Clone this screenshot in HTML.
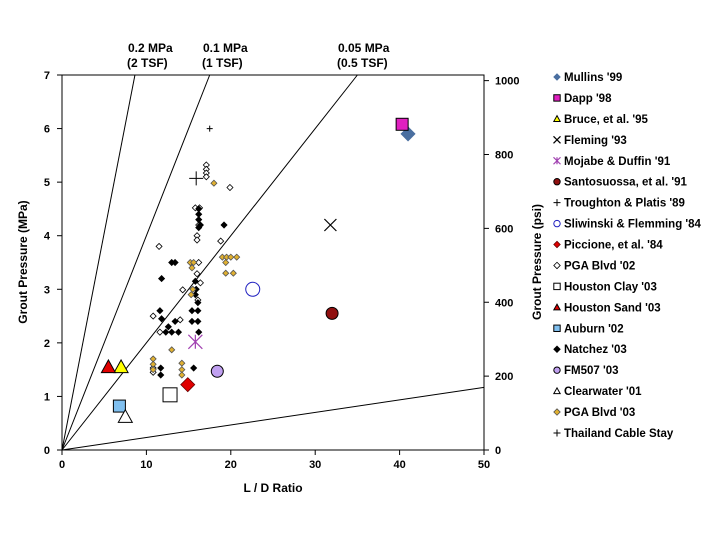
<!DOCTYPE html>
<html><head><meta charset="utf-8"><style>
body{margin:0;background:#fff;}
svg text{font-family:"Liberation Sans",Arial,sans-serif;font-weight:bold;}
</style></head><body>
<svg id="c" width="720" height="540"></svg>
<script>
const xTicks=[0,10,20,30,40,50];
const yTicks=[0,1,2,3,4,5,6,7];
const psiTicks=[0,200,400,600,800,1000];
const lineSlopes=[0.81,0.4,0.2,0.0234];
const lineLabels=[["0.2 MPa","(2 TSF)"],["0.1 MPa","(1 TSF)"],["0.05 MPa","(0.5 TSF)"]];
const labelX=[128,203,338];
const pga02X=[17.1,17.1,17.1,17.1,19.9,15.8,16.3,16.2,16.0,16.0,11.5,18.8,16.2,16.0,16.4,14.3,16.1,10.8,14.0,11.6,10.8,10.8];
const pga02Y=[5.32,5.24,5.17,5.1,4.9,4.52,4.52,4.2,4.0,3.92,3.8,3.9,3.5,3.29,3.12,2.99,2.8,2.5,2.43,2.2,1.53,1.45];
const natX=[16.2,16.2,16.2,16.2,19.2,13.4,13.0,11.8,15.8,15.9,15.8,16.1,16.1,16.1,15.4,15.4,11.6,11.8,12.6,12.3,13.0,13.4,13.8,16.2,11.7,11.7,15.6,16.4];
const natY=[4.5,4.4,4.3,4.15,4.2,3.5,3.5,3.2,3.15,3.0,2.9,2.75,2.6,2.4,2.6,2.4,2.6,2.45,2.3,2.2,2.2,2.4,2.2,2.2,1.53,1.4,1.53,4.2];
const pga03X=[18.0,15.2,15.6,15.4,19.0,19.5,20.0,20.7,19.4,19.4,20.3,15.5,15.3,13.0,10.8,10.8,10.8,14.2,14.2,14.2];
const pga03Y=[4.98,3.5,3.5,3.4,3.6,3.6,3.6,3.6,3.5,3.3,3.3,3.0,2.9,1.87,1.7,1.6,1.5,1.62,1.5,1.4];
const singles=[
 ["Mullins '99","diamond","#4a6fa0","#4a6fa0",41.0,5.9,7],
 ["Dapp '98","square","#e020c0","#000",40.3,6.08,6],
 ["Bruce, et al. '95","triangle","#ffff00","#000",7.0,1.55,7],
 ["Fleming '93","x","none","#000",31.8,4.2,6],
 ["Mojabe & Duffin '91","star","none","#a040b0",15.8,2.02,7],
 ["Santosuossa, et al. '91","circle","#901010","#000",32.0,2.55,6],
 ["Troughton & Platis '89","plus","none","#000",15.9,5.07,7],
 ["Sliwinski & Flemming '84","circle","#fff","#2020c0",22.6,3.0,7],
 ["Piccione, et al. '84","diamond","#e00000","#600",14.9,1.22,7],
 ["PGA Blvd '02","diamond","#fff","#000",null,null,3],
 ["Houston Clay '03","square","#fff","#000",12.8,1.03,7],
 ["Houston Sand '03","triangle","#e00000","#000",5.5,1.55,7],
 ["Auburn '02","square","#80c0f0","#000",6.8,0.82,6],
 ["Natchez '03","diamond","#000","#000",null,null,3],
 ["FM507 '03","circle","#c0a0f0","#000",18.4,1.47,6],
 ["Clearwater '01","triangle","#fff","#000",7.5,0.62,7],
 ["PGA Blvd '03","diamond","#e0b030","#555",null,null,3],
 ["Thailand Cable Stay","plus","none","#000",17.5,6.0,3]
];
const NS="http://www.w3.org/2000/svg";
const svg=document.getElementById('c');
const X0=62,X1=484,Y0=450,Y1=75;
const sx=v=>X0+(X1-X0)*v/50, sy=v=>Y0-(Y0-Y1)*v/7;
const spsi=v=>sy(v*0.006895);
function mk(t,a,p){const e=document.createElementNS(NS,t);for(const k in a)e.setAttribute(k,a[k]);(p||svg).appendChild(e);return e;}
function txt(s,x,y,a,p){const e=mk('text',Object.assign({x:x,y:y,'font-size':12},a||{}),p);e.textContent=s;return e;}
function marker(g,shape,fill,stroke,cx,cy,r){
 let e;
 if(shape=='diamond')e=mk('polygon',{points:`${cx},${cy-r} ${cx+r},${cy} ${cx},${cy+r} ${cx-r},${cy}`,fill:fill,stroke:stroke,'stroke-width':0.8},g);
 else if(shape=='square')e=mk('rect',{x:cx-r,y:cy-r,width:2*r,height:2*r,fill:fill,stroke:stroke,'stroke-width':1},g);
 else if(shape=='triangle')e=mk('polygon',{points:`${cx},${cy-r} ${cx+r},${cy+r*0.8} ${cx-r},${cy+r*0.8}`,fill:fill,stroke:stroke,'stroke-width':1},g);
 else if(shape=='circle')e=mk('circle',{cx:cx,cy:cy,r:r,fill:fill,stroke:stroke,'stroke-width':1},g);
 else if(shape=='x')e=mk('path',{d:`M${cx-r},${cy-r}L${cx+r},${cy+r}M${cx-r},${cy+r}L${cx+r},${cy-r}`,stroke:stroke,'stroke-width':1.2,fill:'none'},g);
 else if(shape=='plus')e=mk('path',{d:`M${cx-r},${cy}L${cx+r},${cy}M${cx},${cy-r}L${cx},${cy+r}`,stroke:stroke,'stroke-width':1,fill:'none'},g);
 else e=mk('path',{d:`M${cx-r},${cy-r}L${cx+r},${cy+r}M${cx-r},${cy+r}L${cx+r},${cy-r}M${cx},${cy-r}L${cx},${cy+r}`,stroke:stroke,'stroke-width':1.2,fill:'none'},g);
 return e;
}
const lg=mk('g',{});
lineSlopes.forEach(s=>{let xe=Math.min(50,7/s);mk('line',{x1:sx(0),y1:sy(0),x2:sx(xe),y2:sy(xe*s),stroke:'#000','stroke-width':1},lg);});
lineLabels.forEach((l,i)=>{const t=txt(l[0],labelX[i],52,{});txt(l[1],labelX[i]-1,67,{});});
const ax=mk('g',{});
mk('rect',{x:X0,y:Y1,width:X1-X0,height:Y0-Y1,fill:'none',stroke:'#000'},ax);
xTicks.forEach(v=>{mk('line',{x1:sx(v),y1:Y0,x2:sx(v),y2:Y0+5,stroke:'#000'},ax);txt(v,sx(v),468,{'text-anchor':'middle','font-size':11},ax);});
yTicks.forEach(v=>{mk('line',{x1:X0-5,y1:sy(v),x2:X0,y2:sy(v),stroke:'#000'},ax);txt(v,50,sy(v)+4,{'text-anchor':'end','font-size':11},ax);});
psiTicks.forEach(v=>{mk('line',{x1:X1,y1:spsi(v),x2:X1+5,y2:spsi(v),stroke:'#000'},ax);txt(v,495,spsi(v)+4,{'font-size':11},ax);});
const xt=txt('L / D Ratio',273,492,{'text-anchor':'middle'});
const yt=txt('Grout Pressure (MPa)',0,0,{'text-anchor':'middle',transform:'translate(27,262) rotate(-90)'});
const yt2=txt('Grout Pressure (psi)',0,0,{'text-anchor':'middle',transform:'translate(541,262) rotate(-90)'});
function cluster(xs,ys,fill,stroke,name){const g=mk('g',{});
 xs.forEach((v,i)=>{const m=marker(g,'diamond',fill,stroke,sx(v),sy(ys[i]),3);});}
cluster(pga02X,pga02Y,'#fff','#000','pga-blvd-02-series');
cluster(natX,natY,'#000','#000','natchez-03-series');
cluster(pga03X,pga03Y,'#e0b030','#555','pga-blvd-03-series');
singles.forEach(s=>{if(s[4]===null)return;const g=mk('g',{});marker(g,s[1],s[2],s[3],sx(s[4]),sy(s[5]),s[6]);});
const L=mk('g',{});
singles.forEach((s,i)=>{const y=77+i*20.94;const g=mk('g',{},L);
 marker(g,s[1],s[2],s[3],557,y,s[1]=='plus'||s[1]=='x'||s[1]=='star'?3.5:3.2);txt(s[0],564,y+4,{'font-size':11.5},g);});
</script>
</body></html>
